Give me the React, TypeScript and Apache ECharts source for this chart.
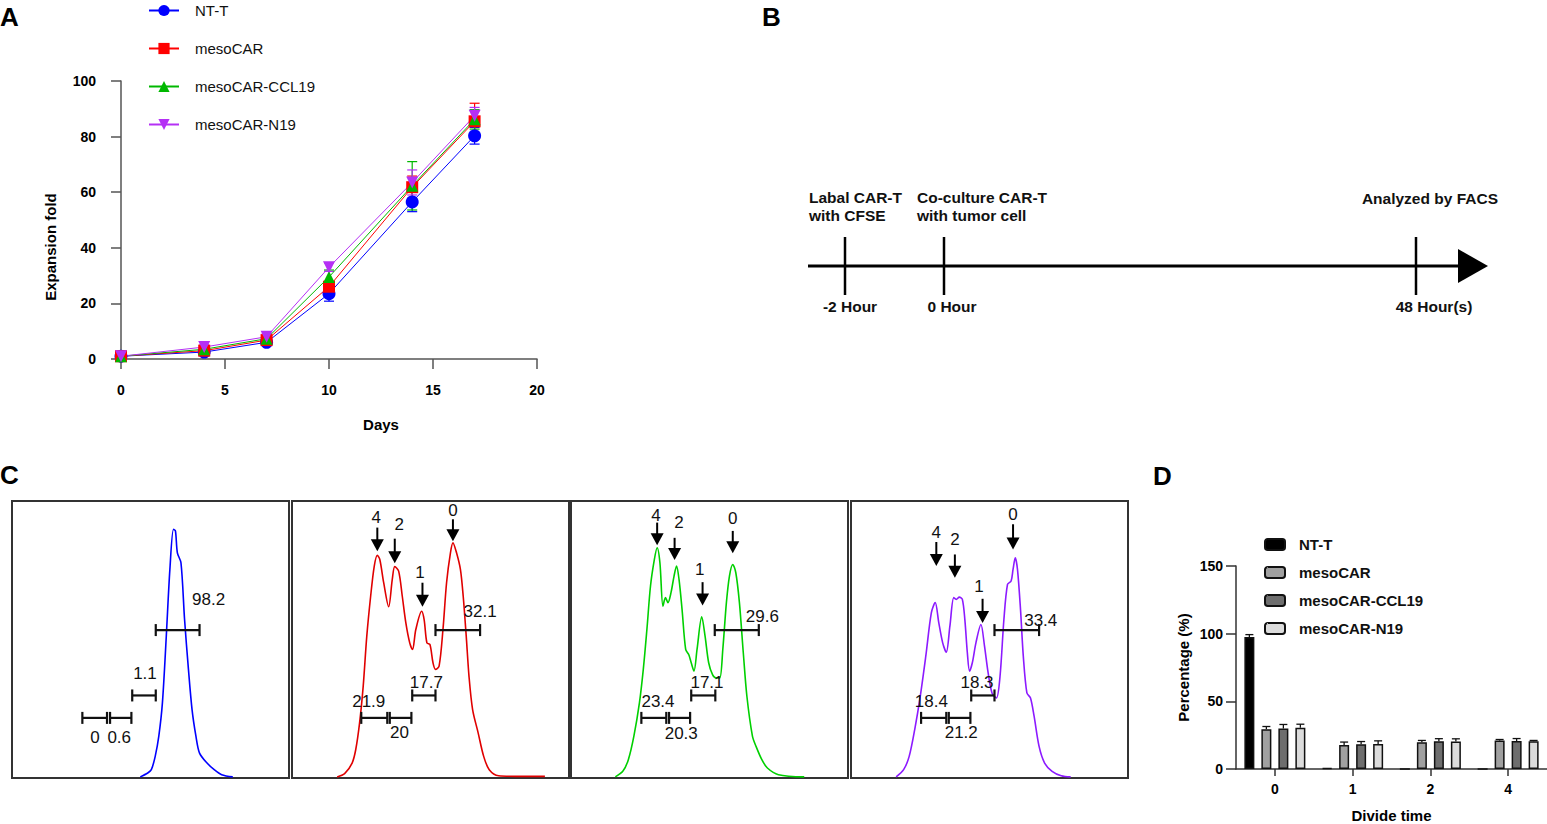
import React, { useEffect, useRef } from 'react';
import * as echarts from 'echarts';

const FONT = '"Liberation Sans", Arial, sans-serif';

// ---------- Panel A: expansion ----------
const days = [0, 4, 7, 10, 14, 17];
const groupNames = ['NT-T', 'mesoCAR', 'mesoCAR-CCL19', 'mesoCAR-N19'];
const expNT = [1, 2.5, 6, 23.5, 56.5, 80.3];
const expMeso = [1, 3, 6.8, 26, 61.8, 85.5];
const expCCL19 = [1, 3.5, 7.3, 29.5, 62.3, 86.2];
const expN19 = [1, 4.3, 8, 33, 63.5, 87.5];
const sdNT = [0.3, 0.5, 0.8, 2.7, 3.5, 3];
const sdMeso = [0.3, 0.6, 0.9, 1.5, 4, 6.5];
const sdCCL19 = [0.3, 0.6, 0.9, 2.5, 8.7, 3.5];
const sdN19 = [0.3, 0.8, 1, 1.5, 4.5, 3];

// ---------- Panel B: timeline ----------
const timelineTop = ['Labal CAR-T\nwith CFSE', 'Co-culture CAR-T\nwith tumor cell', 'Analyzed by FACS'];
const timelineBottom = ['-2 Hour', '0 Hour', '48 Hour(s)'];

// ---------- Panel C: CFSE histograms (x: % of box width, y: % of box height) ----------
const histNT = [
  [46.3, 0.4], [49.0, 1.8], [50.3, 3.0], [51.7, 7.8], [53.0, 15.1], [54.3, 27.1], [55.7, 51.2],
  [57.0, 75.3], [58.3, 89.8], [59.0, 89.2], [59.7, 81.3], [61.0, 77.7], [62.3, 57.2], [63.7, 39.2],
  [65.0, 24.7], [66.4, 15.1], [67.7, 9.0], [70.4, 5.4], [73.0, 3.0], [75.7, 1.2], [79.7, 0.4],
];
const histMeso = [
  [16.3, 0.4], [19.0, 1.6], [21.7, 5.4], [23.0, 10.2], [24.4, 19.9], [25.7, 33.1], [27.0, 51.2],
  [28.4, 65.7], [29.7, 76.5], [30.8, 80.4], [31.7, 78.9], [33.1, 70.5], [34.9, 61.8], [36.2, 71.7],
  [37.1, 76.3], [38.5, 74.7], [39.8, 65.7], [41.1, 56.0], [42.5, 48.8], [43.5, 46.4], [44.7, 53.6],
  [46.8, 60.2], [47.7, 57.2], [48.7, 48.8], [49.8, 48.2], [50.9, 41.6], [51.8, 39.2], [53.1, 40.4],
  [54.5, 53.6], [55.8, 70.5], [57.2, 81.3], [58.1, 84.9], [59.4, 81.3], [60.8, 75.3], [61.8, 65.7],
  [62.9, 51.2], [63.9, 36.7], [65.2, 24.7], [67.2, 16.3], [69.2, 7.8], [71.2, 3.0], [74.6, 0.8],
  [80.6, 0.6], [88.6, 0.6], [91.3, 0.6],
];
const histCCL19 = [
  [16.0, 0.4], [18.7, 2.4], [20.7, 6.6], [22.7, 15.1], [24.7, 27.1], [26.1, 39.2], [27.4, 53.6],
  [28.7, 69.3], [30.1, 78.9], [31.1, 83.1], [32.1, 77.7], [33.2, 62.0], [34.1, 65.1], [35.0, 63.3],
  [36.1, 66.9], [37.2, 72.9], [38.1, 76.5], [39.0, 71.7], [40.1, 60.8], [41.4, 46.4], [42.5, 44.6],
  [43.4, 41.6], [44.4, 38.6], [45.5, 46.4], [47.2, 58.2], [48.4, 51.2], [49.7, 41.6], [51.1, 37.3],
  [52.4, 36.1], [53.7, 36.1], [54.8, 46.4], [56.1, 63.3], [57.2, 72.9], [58.4, 77.1], [59.5, 74.1],
  [60.8, 63.3], [62.2, 45.2], [63.5, 29.5], [65.5, 15.1], [66.8, 11.4], [68.9, 6.6], [70.9, 3.6],
  [74.9, 1.2], [84.2, 0.4],
];
const histN19 = [
  [16.3, 0.4], [19.0, 3.0], [21.0, 7.8], [23.0, 17.5], [25.0, 29.5], [27.0, 44.0], [29.0, 59.6],
  [30.4, 63.3], [31.7, 56.0], [33.1, 48.8], [34.4, 45.4], [35.7, 54.8], [37.1, 65.1], [38.0, 64.5],
  [39.1, 65.3], [40.2, 64.5], [41.1, 57.2], [42.0, 45.2], [42.8, 38.6], [43.8, 41.6], [45.1, 48.8],
  [46.9, 55.4], [48.2, 47.6], [49.5, 38.0], [50.9, 30.7], [52.5, 28.9], [53.8, 36.7], [55.2, 57.2],
  [56.5, 69.9], [57.8, 71.1], [58.5, 75.3], [59.3, 79.5], [60.1, 75.3], [61.2, 60.8], [62.2, 44.0],
  [63.5, 30.7], [64.8, 28.9], [66.1, 22.3], [67.9, 11.4], [69.9, 5.4], [72.6, 2.4], [75.9, 0.8],
  [79.3, 0.4],
];

// gates: [x1, x2, y, labelX, labelY]
const gatesNT = [[25.4, 34.3, 21.7, 30.0, 14.8], [35.4, 43.1, 21.7, 38.7, 14.8], [43.4, 51.9, 29.8, 48.0, 37.7], [51.9, 67.7, 53.4, 71.0, 64.5]];
const gateLabelsNT = ['0', '0.6', '1.1', '98.2'];
const gatesMeso = [[25.0, 34.4, 21.7, 27.7, 27.7], [35.3, 43.1, 21.7, 38.8, 16.3], [43.4, 51.8, 29.8, 48.5, 34.3], [51.8, 67.9, 53.4, 67.9, 60.2]];
const gateLabelsMeso = ['21.9', '20', '17.7', '32.1'];
const gatesCCL19 = [[25.4, 34.4, 21.7, 31.4, 27.7], [35.4, 43.0, 21.7, 39.8, 16.0], [43.4, 52.1, 29.8, 49.1, 34.3], [51.9, 67.8, 53.4, 69.1, 58.2]];
const gateLabelsCCL19 = ['23.4', '20.3', '17.1', '29.6'];
const gatesN19 = [[25.3, 34.4, 21.7, 29.0, 27.7], [35.3, 43.1, 21.7, 39.8, 16.3], [43.4, 51.8, 29.8, 45.5, 34.3], [51.8, 67.9, 53.4, 68.5, 57.0]];
const gateLabelsN19 = ['18.4', '21.2', '18.3', '33.4'];

// arrows: [x, yTop, yTip, labelX, labelY]
const arrowLabels = ['4', '2', '1', '0'];
const arrowsMeso = [[30.8, 90.4, 81.9, 30.4, 94.0], [37.1, 86.4, 77.5, 38.7, 91.6], [47.1, 70.5, 61.8, 46.2, 74.1], [58.1, 93.4, 85.5, 58.1, 96.4]];
const arrowsCCL19 = [[31.1, 92.2, 84.0, 30.7, 94.6], [37.4, 86.7, 78.7, 39.0, 92.2], [47.5, 70.7, 62.3, 46.5, 75.3], [58.4, 89.2, 81.1, 58.4, 93.7]];
const arrowsN19 = [[30.8, 85.2, 76.5, 30.8, 88.8], [37.5, 80.7, 72.3, 37.5, 86.1], [47.5, 64.7, 56.0, 46.2, 69.0], [58.5, 91.6, 82.5, 58.5, 95.2]];

// ---------- Panel D: division percentages ----------
const divideTimes = ['0', '1', '2', '4'];
const pctNT = [97.5, 0.6, 0, 0];
const pctMeso = [29.4, 17.7, 19.8, 21];
const pctCCL19 = [29.9, 18.3, 20.5, 20.7];
const pctN19 = [30.5, 18.4, 20.3, 20.5];
const errNT = [1.8, 0, 0, 0];
const errMeso = [2.0, 2.2, 1.3, 0.8];
const errCCL19 = [3.0, 2.0, 1.9, 1.8];
const errN19 = [2.6, 2.4, 2.0, 0.6];

const lineColors = ['#0000ff', '#ff0000', '#00b800', '#b530f5'];
const histColors = ['#0000ff', '#e00000', '#00d000', '#8c1aff'];
const barFills = ['#000000', '#a0a0a0', '#6e6e6e', '#dcdcdc'];

const expSeries = [expNT, expMeso, expCCL19, expN19];
const sdSeries = [sdNT, sdMeso, sdCCL19, sdN19];
const symbols = ['circle', 'rect', 'triangle', 'triangle'];
const symbolSizes = [13, 12, 12, 12];
const symbolRotates = [0, 0, 0, 180];

function errA(color: string) {
  return (params: any, api: any) => {
    const x = api.value(0);
    const p1 = api.coord([x, api.value(1)]);
    const p2 = api.coord([x, api.value(2)]);
    const w = 5;
    const st = { stroke: color, lineWidth: 1.2 };
    return {
      type: 'group',
      children: [
        { type: 'line', shape: { x1: p1[0], y1: p1[1], x2: p2[0], y2: p2[1] }, style: st },
        { type: 'line', shape: { x1: p1[0] - w, y1: p1[1], x2: p1[0] + w, y2: p1[1] }, style: st },
        { type: 'line', shape: { x1: p2[0] - w, y1: p2[1], x2: p2[0] + w, y2: p2[1] }, style: st },
      ],
    };
  };
}

function textEl(text: string, x: number, y: number, size: number) {
  return {
    type: 'text',
    style: {
      text, x, y, fill: '#111', font: `${size}px ${FONT}`,
      align: 'center', verticalAlign: 'middle', textAlign: 'center', textVerticalAlign: 'middle',
    },
  };
}

function gateItem(labels: string[]) {
  return (params: any, api: any) => {
    const a = api.coord([api.value(0), api.value(2)]);
    const b = api.coord([api.value(1), api.value(2)]);
    const l = api.coord([api.value(3), api.value(4)]);
    const h = 6;
    const st = { stroke: '#111', lineWidth: 2.2 };
    return {
      type: 'group',
      children: [
        { type: 'line', shape: { x1: a[0], y1: a[1], x2: b[0], y2: b[1] }, style: st },
        { type: 'line', shape: { x1: a[0], y1: a[1] - h, x2: a[0], y2: a[1] + h }, style: st },
        { type: 'line', shape: { x1: b[0], y1: b[1] - h, x2: b[0], y2: b[1] + h }, style: st },
        textEl(labels[params.dataIndex], l[0], l[1], 17),
      ],
    };
  };
}

function arrowItem(labels: string[]) {
  return (params: any, api: any) => {
    const t = api.coord([api.value(0), api.value(1)]);
    const tip = api.coord([api.value(0), api.value(2)]);
    const l = api.coord([api.value(3), api.value(4)]);
    const hl = 12;
    const hw = 6.5;
    return {
      type: 'group',
      children: [
        { type: 'line', shape: { x1: t[0], y1: t[1], x2: tip[0], y2: tip[1] - hl + 2 }, style: { stroke: '#000', lineWidth: 2 } },
        { type: 'polygon', shape: { points: [[tip[0] - hw, tip[1] - hl], [tip[0] + hw, tip[1] - hl], [tip[0], tip[1]]] }, style: { fill: '#000' } },
        textEl(labels[params.dataIndex], l[0], l[1], 17),
      ],
    };
  };
}

const barOffsets = [-25.5, -8.5, 8.5, 25.5];
function errD(offset: number) {
  return (params: any, api: any) => {
    const i = api.value(0);
    const v = api.value(1);
    const top = api.value(2);
    if (top <= v) return { type: 'group', children: [] };
    const p1 = api.coord([i, v]);
    const p2 = api.coord([i, top]);
    const x = p1[0] + offset;
    const st = { stroke: '#111', lineWidth: 1.3 };
    return {
      type: 'group',
      children: [
        { type: 'line', shape: { x1: x, y1: p1[1], x2: x, y2: p2[1] }, style: st },
        { type: 'line', shape: { x1: x - 4, y1: p2[1], x2: x + 4, y2: p2[1] }, style: st },
      ],
    };
  };
}

function buildOption() {
  const axisCol = '#555';
  const boldLabel = { fontWeight: 'bold', fontSize: 14, color: '#000', fontFamily: FONT };
  const boldName = { fontWeight: 'bold', fontSize: 15, color: '#000', fontFamily: FONT };
  const boxes = [12, 292, 571, 851];

  const grids: any[] = [{ left: 121, top: 81, width: 416, height: 278 }];
  boxes.forEach((l) => grids.push({ left: l, top: 501, width: 277, height: 277, show: true, borderColor: '#333', borderWidth: 2, backgroundColor: 'transparent' }));
  grids.push({ left: 1236, top: 566, width: 312, height: 207 });

  const xAxes: any[] = [
    {
      gridIndex: 0, type: 'value', min: 0, max: 20, interval: 5,
      axisLine: { show: true, lineStyle: { color: axisCol, width: 1.5 } },
      axisTick: { show: true, length: 10, lineStyle: { color: axisCol, width: 1.5 } },
      axisLabel: { ...boldLabel, margin: 24 }, splitLine: { show: false },
      name: 'Days', nameLocation: 'middle', nameGap: 58,
      nameTextStyle: { ...boldName, padding: [0, 0, 0, 104] },
    },
  ];
  const yAxes: any[] = [
    {
      gridIndex: 0, type: 'value', min: 0, max: 100, interval: 20,
      axisLine: { show: true, lineStyle: { color: axisCol, width: 1.5 } },
      axisTick: { show: true, length: 10, lineStyle: { color: axisCol, width: 1.5 } },
      axisLabel: { ...boldLabel, margin: 25 }, splitLine: { show: false },
      name: 'Expansion fold', nameLocation: 'middle', nameGap: 63,
      nameTextStyle: { ...boldName, padding: [0, 54, 0, 0] },
    },
  ];
  boxes.forEach((_, k) => {
    xAxes.push({ gridIndex: k + 1, type: 'value', min: 0, max: 100, show: false });
    yAxes.push({ gridIndex: k + 1, type: 'value', min: 0, max: 100, show: false });
  });
  xAxes.push({
    gridIndex: 5, type: 'category', data: divideTimes,
    axisLine: { show: true, lineStyle: { color: '#333', width: 1.5 } },
    axisTick: { show: true, alignWithLabel: true, length: 7, lineStyle: { color: '#333', width: 1.5 } },
    axisLabel: { ...boldLabel, margin: 13 },
    name: 'Divide time', nameLocation: 'middle', nameGap: 39, nameTextStyle: boldName,
  });
  yAxes.push({
    gridIndex: 5, type: 'value', min: 0, max: 150, interval: 50,
    axisLine: { show: true, lineStyle: { color: '#333', width: 1.5 } },
    axisTick: { show: true, length: 10, lineStyle: { color: '#333', width: 1.5 } },
    axisLabel: { ...boldLabel, margin: 13 }, splitLine: { show: false },
    name: 'Percentage (%)', nameLocation: 'middle', nameGap: 45, nameTextStyle: boldName,
  });

  const series: any[] = [];
  // Panel A
  expSeries.forEach((vals, k) => {
    series.push({
      type: 'custom', name: 'errA' + k, xAxisIndex: 0, yAxisIndex: 0, z: 2,
      renderItem: errA(lineColors[k]),
      data: days.map((d, i) => [d, vals[i] - sdSeries[k][i], vals[i] + sdSeries[k][i]]),
    });
  });
  expSeries.forEach((vals, k) => {
    series.push({
      type: 'line', name: groupNames[k], xAxisIndex: 0, yAxisIndex: 0, z: 3,
      data: days.map((d, i) => [d, vals[i]]),
      symbol: symbols[k], symbolSize: symbolSizes[k], symbolRotate: symbolRotates[k],
      showSymbol: true,
      lineStyle: { width: 1, color: lineColors[k] },
      itemStyle: { color: lineColors[k] },
    });
  });
  // Panel C
  const hists = [histNT, histMeso, histCCL19, histN19];
  const gates = [gatesNT, gatesMeso, gatesCCL19, gatesN19];
  const gateLabels = [gateLabelsNT, gateLabelsMeso, gateLabelsCCL19, gateLabelsN19];
  const arrows = [null, arrowsMeso, arrowsCCL19, arrowsN19];
  hists.forEach((h, k) => {
    series.push({
      type: 'line', name: 'hist' + k, xAxisIndex: k + 1, yAxisIndex: k + 1,
      data: h, showSymbol: false, smooth: 0.3,
      lineStyle: { width: 1.6, color: histColors[k] }, itemStyle: { color: histColors[k] },
    });
    series.push({
      type: 'custom', name: 'gate' + k, xAxisIndex: k + 1, yAxisIndex: k + 1, z: 4,
      renderItem: gateItem(gateLabels[k]), data: gates[k],
    });
    const ar = arrows[k];
    if (ar) {
      series.push({
        type: 'custom', name: 'arrow' + k, xAxisIndex: k + 1, yAxisIndex: k + 1, z: 4,
        renderItem: arrowItem(arrowLabels), data: ar,
      });
    }
  });
  // Panel D
  const pcts = [pctNT, pctMeso, pctCCL19, pctN19];
  const errs = [errNT, errMeso, errCCL19, errN19];
  pcts.forEach((p, k) => {
    series.push({
      type: 'bar', name: 'D:' + groupNames[k], xAxisIndex: 5, yAxisIndex: 5,
      data: p, barWidth: 10, barGap: '70%',
      itemStyle: { color: barFills[k], borderColor: '#111', borderWidth: 1.5 },
    });
  });
  pcts.forEach((p, k) => {
    series.push({
      type: 'custom', name: 'errD' + k, xAxisIndex: 5, yAxisIndex: 5, z: 3,
      renderItem: errD(barOffsets[k]),
      data: p.map((v, i) => [i, v, v + errs[k][i]]),
    });
  });

  const bText = (text: string, x: number, y: number, align: string) => ({
    type: 'text', x, y,
    style: { text, fill: '#111', font: `bold 15.5px ${FONT}`, textAlign: align, textVerticalAlign: 'middle', lineHeight: 18 },
  });
  const letter = (t: string, x: number, y: number) => ({
    type: 'text', x, y, style: { text: t, fill: '#000', font: `bold 26px ${FONT}`, textAlign: 'left', textVerticalAlign: 'middle' },
  });
  const tickXs = [845, 944, 1416];
  const graphic: any[] = [
    letter('A', 0, 17), letter('B', 762, 17), letter('C', 0, 475), letter('D', 1153, 476),
    { type: 'line', shape: { x1: 808, y1: 266, x2: 1462, y2: 266 }, style: { stroke: '#000', lineWidth: 3 } },
    { type: 'polygon', shape: { points: [[1458, 249], [1488, 266], [1458, 283]] }, style: { fill: '#000' } },
    ...tickXs.map((x) => ({ type: 'line', shape: { x1: x, y1: 237, x2: x, y2: 295 }, style: { stroke: '#000', lineWidth: 2.5 } })),
    bText(timelineTop[0], 809, 206, 'left'),
    bText(timelineTop[1], 917, 206, 'left'),
    bText(timelineTop[2], 1498, 198, 'right'),
    bText(timelineBottom[0], 850, 306, 'center'),
    bText(timelineBottom[1], 952, 306, 'center'),
    bText(timelineBottom[2], 1434, 306, 'center'),
  ];

  return {
    animation: false,
    backgroundColor: '#ffffff',
    textStyle: { fontFamily: FONT },
    grid: grids,
    xAxis: xAxes,
    yAxis: yAxes,
    legend: [
      {
        data: groupNames, orient: 'vertical', left: 148, top: 2, padding: 0,
        itemWidth: 30, itemHeight: 14, itemGap: 21, selectedMode: false,
        textStyle: { fontSize: 15, color: '#111', fontFamily: FONT, lineHeight: 17, padding: [0, 0, 0, 11] },
      },
      {
        data: groupNames.map((n) => 'D:' + n), formatter: (n: string) => n.slice(2),
        orient: 'vertical', left: 1264, top: 536, padding: 0,
        itemWidth: 20, itemHeight: 11, itemGap: 11, selectedMode: false,
        textStyle: { fontSize: 15, fontWeight: 'bold', color: '#111', fontFamily: FONT, lineHeight: 17, padding: [0, 0, 0, 9] },
      },
    ],
    series,
    graphic,
  };
}

export default function App() {
  const ref = useRef<HTMLDivElement>(null);
  useEffect(() => {
    document.body.style.margin = '0';
    if (!ref.current) return;
    const chart = echarts.init(ref.current, undefined, { renderer: 'svg' });
    chart.setOption(buildOption() as any);
    return () => chart.dispose();
  }, []);
  return <div ref={ref} style={{ width: 1547, height: 824 }} />;
}
